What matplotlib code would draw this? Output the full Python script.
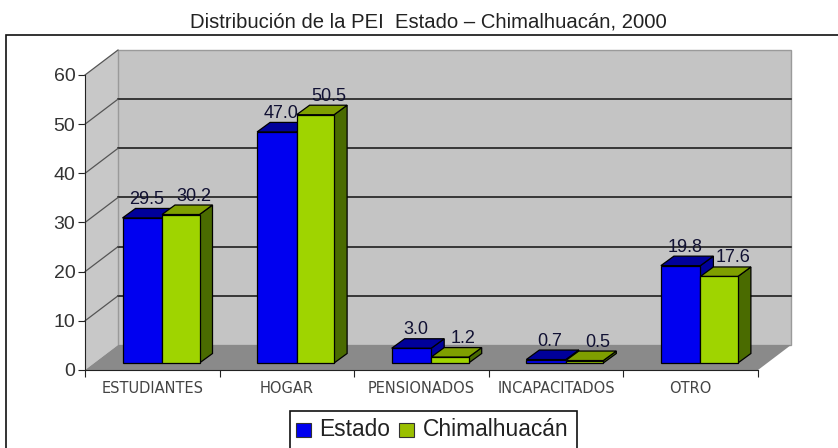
import matplotlib
matplotlib.use("Agg")
import matplotlib.pyplot as plt
from matplotlib.patches import Polygon, Rectangle

plt.rcParams['font.family'] = ['Liberation Sans', 'DejaVu Sans']

categories = ['ESTUDIANTES', 'HOGAR', 'PENSIONADOS', 'INCAPACITADOS', 'OTRO']
estado = [29.5, 47.0, 3.0, 0.7, 19.8]
chimalhuacan = [30.2, 50.5, 1.2, 0.5, 17.6]
y_ticks = [0, 10, 20, 30, 40, 50, 60]

W, H = 838, 448
fig = plt.figure(figsize=(W / 100, H / 100), dpi=100)

# frame round the chart, runs off the right and bottom of the picture
bg = fig.add_axes([0, 0, 1, 1])
bg.set_xlim(0, W)
bg.set_ylim(H, 0)
bg.axis('off')
bg.add_patch(Rectangle((6, 35), 860, 440, fc='white', ec='#111111', lw=1.2))

# plot axes: front edge of the 3d box
ax = fig.add_axes([85 / W, 1 - 370 / H, (758 - 85) / W, (370 - 75) / H])
ax.set_xlim(0, 5)
ax.set_ylim(0, 60)
ax.patch.set_alpha(0)
for s in ['top', 'right']:
    ax.spines[s].set_visible(False)
ax.spines['left'].set_color('#222222')
ax.spines['bottom'].set_color('#222222')

px_x = 5 / (758 - 85)
px_y = 60 / (370 - 75)
# depth of the box, depth of a bar, lift of bar base
dx, dy = 33 * px_x, 25 * px_y
bx, by = 13 * px_x, 9.5 * px_y
base = 7 * px_y
off1, bw1, bw2 = 37.5 * px_x, 39.5 * px_x, 37.5 * px_x

# walls and floor
ax.add_patch(Polygon([(0, 0), (dx, dy), (dx, 60 + dy), (0, 60)], fc='#c8c8c8', ec='none', clip_on=False, zorder=1))
ax.add_patch(Polygon([(dx, dy), (5 + dx, dy), (5 + dx, 60 + dy), (dx, 60 + dy)], fc='#c4c4c4', ec='#9a9a9a', lw=1, clip_on=False, zorder=1))
ax.add_patch(Polygon([(0, 0), (dx, dy), (5 + dx, dy), (5, 0)], fc='#8a8a8a', ec='none', clip_on=False, zorder=2))

for v in y_ticks[1:-1]:
    ax.plot([dx, 5 + dx], [v + dy, v + dy], color='#111111', lw=1.1, clip_on=False, zorder=2)
for v in y_ticks[1:]:
    ax.plot([0, dx], [v, v + dy], color='#555555', lw=0.9, clip_on=False, zorder=2)


def bar3d(x, w, v, front, top, side):
    y0 = base
    y1 = base + v
    ax.add_patch(Polygon([(x + w, y0), (x + w + bx, y0 + by), (x + w + bx, y1 + by), (x + w, y1)],
                         fc=side, ec='black', lw=0.9, clip_on=False, zorder=4))
    ax.add_patch(Polygon([(x, y1), (x + bx, y1 + by), (x + w + bx, y1 + by), (x + w, y1)],
                         fc=top, ec='black', lw=0.9, clip_on=False, zorder=4))
    ax.bar(x, v, w, bottom=y0, align='edge', color=front, edgecolor='black', lw=0.9, clip_on=False, zorder=5)


for i in range(len(categories)):
    x1 = i + off1
    x2 = x1 + bw1
    bar3d(x1, bw1, estado[i], '#0000f0', '#00009a', '#00009a')
    bar3d(x2, bw2, chimalhuacan[i], '#9fd400', '#7f9f00', '#4a6b00')
    ax.text(x1 + bw1 / 2 + 0.03, base + estado[i] + by + 0.1, '%.1f' % estado[i], ha='center', va='bottom',
            fontsize=13, color='#111133', zorder=6)
    ax.text(x2 + bw2 / 2 + 0.1, base + chimalhuacan[i] + by + 0.1, '%.1f' % chimalhuacan[i], ha='center', va='bottom',
            fontsize=13, color='#111133', zorder=6)

ax.set_yticks(y_ticks)
ax.set_xticks(range(6))
ax.set_xticklabels([])
ax.tick_params(axis='y', labelsize=14, labelcolor='#333333', length=5, pad=2, color='#222222')
ax.tick_params(axis='x', length=5, color='#222222')
for i, c in enumerate(categories):
    ax.text(i + 0.5, -3.7, c, ha='center', va='center', fontsize=10.5, color='#444444',
            family='DejaVu Sans')

# title
bg.text(428, 22, 'Distribución de la PEI  Estado – Chimalhuacán, 2000', ha='center', va='center',
        fontsize=14.6, color='#222222')

# legend
bg.add_patch(Rectangle((290, 411), 287, 50, fc='white', ec='#111111', lw=1.2, zorder=3))
bg.add_patch(Rectangle((296, 423), 15, 14, fc='#0000f0', ec='#333333', lw=0.8, zorder=4))
bg.add_patch(Rectangle((399, 423), 15, 14, fc='#9abf00', ec='#333333', lw=0.8, zorder=4))
bg.text(319, 429, 'Estado', va='center', fontsize=16.4, color='#222222', zorder=4)
bg.text(423, 429, 'Chimalhuacán', va='center', fontsize=16.4, color='#222222', zorder=4)

fig.savefig('out.png', dpi=100)
